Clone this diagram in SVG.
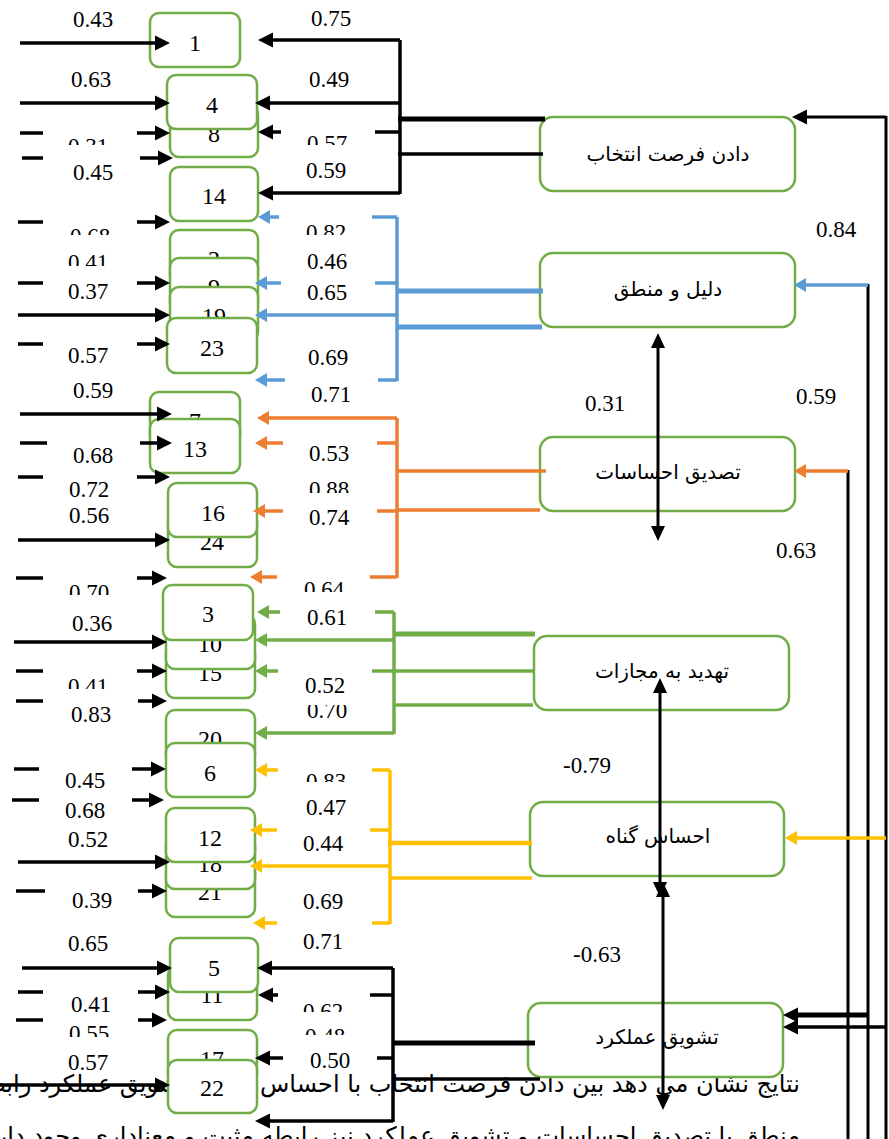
<svg xmlns="http://www.w3.org/2000/svg" width="889" height="1139" viewBox="0 0 889 1139">
<style>
.box{fill:#fff;stroke:#70AD47;stroke-width:2.5}
.num{font-family:"Liberation Serif","Times New Roman",serif;font-size:24px;text-anchor:middle;fill:#000}
.lbl{font-family:"Liberation Serif","Times New Roman",serif;font-size:23px;text-anchor:middle;fill:#000}
.fa{font-family:"DejaVu Sans","Noto Sans",sans-serif;font-size:20px;text-anchor:middle;fill:#000}
.par{font-family:"DejaVu Sans","Noto Sans",sans-serif;font-size:24px;text-anchor:end;fill:#000}
.k{stroke:#000;stroke-width:3.5;fill:none}
.kt{stroke:#000;stroke-width:5;fill:none}
.kv{stroke:#000;stroke-width:3;fill:none}
.b{stroke:#5B9BD5;stroke-width:3.5;fill:none}
.bt{stroke:#5B9BD5;stroke-width:5;fill:none}
.o{stroke:#ED7D31;stroke-width:3.5;fill:none}
.g{stroke:#70AD47;stroke-width:3.5;fill:none}
.gt{stroke:#70AD47;stroke-width:5;fill:none}
.y{stroke:#FFC000;stroke-width:3.5;fill:none}
.yt{stroke:#FFC000;stroke-width:4.5;fill:none}
</style>
<defs>
<marker id="ak" markerUnits="userSpaceOnUse" markerWidth="16" markerHeight="16" refX="0" refY="7.5" orient="auto" overflow="visible"><path d="M0,0L15,7.5L0,15z" fill="#000"/></marker>
<marker id="ad" markerUnits="userSpaceOnUse" markerWidth="16" markerHeight="16" refX="0" refY="7" orient="auto-start-reverse" overflow="visible"><path d="M0,0L15,7L0,14z" fill="#000"/></marker>
<marker id="ab" markerUnits="userSpaceOnUse" markerWidth="14" markerHeight="14" refX="0" refY="7" orient="auto" overflow="visible"><path d="M0,0L12,7L0,14z" fill="#5B9BD5"/></marker>
<marker id="ao" markerUnits="userSpaceOnUse" markerWidth="14" markerHeight="14" refX="0" refY="7" orient="auto" overflow="visible"><path d="M0,0L12,7L0,14z" fill="#ED7D31"/></marker>
<marker id="ag" markerUnits="userSpaceOnUse" markerWidth="14" markerHeight="14" refX="0" refY="7" orient="auto" overflow="visible"><path d="M0,0L12,7L0,14z" fill="#70AD47"/></marker>
<marker id="ay" markerUnits="userSpaceOnUse" markerWidth="14" markerHeight="14" refX="0" refY="7" orient="auto" overflow="visible"><path d="M0,0L12,7L0,14z" fill="#FFC000"/></marker>
<clipPath id="c1"><rect x="0" y="0" width="889" height="145"/></clipPath>
<clipPath id="c2"><rect x="0" y="0" width="889" height="235"/></clipPath>
<clipPath id="c3"><rect x="0" y="0" width="889" height="266"/></clipPath>
<clipPath id="c4"><rect x="0" y="508" width="889" height="100"/></clipPath>
<clipPath id="c5"><rect x="0" y="0" width="889" height="595"/></clipPath>
<clipPath id="c6"><rect x="0" y="0" width="889" height="689"/></clipPath>
<clipPath id="c7"><rect x="0" y="0" width="889" height="1037"/></clipPath>
<clipPath id="c8"><rect x="0" y="0" width="889" height="493"/></clipPath>
<clipPath id="c9"><rect x="0" y="0" width="889" height="592"/></clipPath>
<clipPath id="c10"><rect x="0" y="705" width="889" height="100"/></clipPath>
<clipPath id="c11"><rect x="0" y="0" width="889" height="782"/></clipPath>
<clipPath id="c12"><rect x="0" y="0" width="889" height="1012"/></clipPath>
<clipPath id="c13"><rect x="0" y="0" width="889" height="1035"/></clipPath>
</defs>
<rect width="889" height="1139" fill="#fff"/>

<g id="paragraph">
<text class="par" x="800" y="1092">نتایج نشان می دهد بین دادن فرصت انتخاب با احساس گناه و تشویق عملکرد رابطه</text>
<text class="par" x="800" y="1144">منطق با تصدیق احساسات و تشویق عملکرد نیز رابطه مثبت و معناداری وجود دارد</text>
</g>

<g id="item1"><rect class="box" x="150" y="13" width="90" height="54" rx="9"/><text class="num" x="195" y="51">1</text></g>
<g id="item8"><rect class="box" x="170" y="105" width="88" height="52" rx="9"/><text class="num" x="214" y="142">8</text></g>
<g id="item4"><rect class="box" x="167" y="75" width="90" height="54" rx="9"/><text class="num" x="212" y="113">4</text></g>
<g id="item14"><rect class="box" x="170" y="167" width="88" height="54" rx="9"/><text class="num" x="214" y="204">14</text></g>
<g id="item2"><rect class="box" x="170" y="230" width="88" height="54" rx="9"/><text class="num" x="214" y="267">2</text></g>
<g id="item9"><rect class="box" x="170" y="258" width="88" height="54" rx="9"/><text class="num" x="214" y="295">9</text></g>
<g id="item19"><rect class="box" x="170" y="287" width="88" height="54" rx="9"/><text class="num" x="214" y="324">19</text></g>
<g id="item23"><rect class="box" x="167" y="318" width="90" height="55" rx="9"/><text class="num" x="212" y="356">23</text></g>
<g id="item7"><rect class="box" x="150" y="392" width="90" height="54" rx="9"/><text class="num" x="195" y="429">7</text></g>
<g id="item13"><rect class="box" x="150" y="419" width="90" height="54" rx="9"/><text class="num" x="195" y="457">13</text></g>
<g id="item24"><rect class="box" x="168" y="513" width="89" height="54" rx="9"/><text class="num" x="212" y="550">24</text></g>
<g id="item16"><rect class="box" x="168" y="483" width="89" height="54" rx="9"/><text class="num" x="213" y="521">16</text></g>
<g id="item15"><rect class="box" x="166" y="644" width="89" height="54" rx="9"/><text class="num" x="210" y="681">15</text></g>
<g id="item10"><rect class="box" x="166" y="615" width="89" height="54" rx="9"/><text class="num" x="210" y="652">10</text></g>
<g id="item3"><rect class="box" x="163" y="585" width="90" height="55" rx="9"/><text class="num" x="208" y="622">3</text></g>
<g id="item20"><rect class="box" x="166" y="710" width="89" height="54" rx="9"/><text class="num" x="210" y="747">20</text></g>
<g id="item6"><rect class="box" x="166" y="743" width="89" height="54" rx="9"/><text class="num" x="210" y="781">6</text></g>
<g id="item21"><rect class="box" x="166" y="863" width="89" height="54" rx="9"/><text class="num" x="210" y="900">21</text></g>
<g id="item18"><rect class="box" x="166" y="835" width="89" height="54" rx="9"/><text class="num" x="210" y="872">18</text></g>
<g id="item12"><rect class="box" x="166" y="808" width="89" height="54" rx="9"/><text class="num" x="210" y="846">12</text></g>
<g id="item11"><rect class="box" x="168" y="966" width="89" height="54" rx="9"/><text class="num" x="212" y="1003">11</text></g>
<g id="item5"><rect class="box" x="170" y="938" width="88" height="54" rx="9"/><text class="num" x="214" y="976">5</text></g>
<g id="item17"><rect class="box" x="168" y="1030" width="89" height="54" rx="9"/><text class="num" x="212" y="1067">17</text></g>
<g id="item22"><rect class="box" x="168" y="1060" width="89" height="53" rx="9"/><text class="num" x="212" y="1096">22</text></g>

<g id="f_choice"><rect class="box" x="540" y="117" width="255" height="74" rx="13"/><text class="fa" x="668" y="161">دادن فرصت انتخاب</text></g>
<g id="f_reason"><rect class="box" x="540" y="253" width="255" height="74" rx="13"/><text class="fa" x="668" y="296">دلیل و منطق</text></g>
<g id="f_validate"><rect class="box" x="540" y="437" width="255" height="74" rx="13"/><text class="fa" x="668" y="479">تصدیق احساسات</text></g>
<g id="f_threat"><rect class="box" x="534" y="636" width="255" height="74" rx="13"/><text class="fa" x="662" y="678">تهدید به مجازات</text></g>
<g id="f_guilt"><rect class="box" x="530" y="802" width="254" height="74" rx="13"/><text class="fa" x="658" y="843">احساس گناه</text></g>
<g id="f_reward"><rect class="box" x="528" y="1003" width="255" height="74" rx="13"/><text class="fa" x="657" y="1044">تشویق عملکرد</text></g>

<g id="connectors">
<line class="k" x1="20" y1="43" x2="155" y2="43" marker-end="url(#ak)"/>
<line class="k" x1="20" y1="103" x2="155" y2="103" marker-end="url(#ak)"/>
<line class="k" x1="20" y1="133" x2="43" y2="133"/><line class="k" x1="137" y1="133" x2="155" y2="133" marker-end="url(#ak)"/>
<line class="k" x1="22" y1="158" x2="43" y2="158"/><line class="k" x1="140" y1="158" x2="158" y2="158" marker-end="url(#ak)"/>
<line class="k" x1="18" y1="222" x2="43" y2="222"/><line class="k" x1="137" y1="222" x2="155" y2="222" marker-end="url(#ak)"/>
<line class="k" x1="18" y1="283" x2="43" y2="283"/><line class="k" x1="137" y1="283" x2="155" y2="283" marker-end="url(#ak)"/>
<line class="k" x1="18" y1="315" x2="155" y2="315" marker-end="url(#ak)"/>
<line class="k" x1="18" y1="344" x2="43" y2="344"/><line class="k" x1="137" y1="344" x2="155" y2="344" marker-end="url(#ak)"/>
<line class="k" x1="20" y1="414" x2="157" y2="414" marker-end="url(#ak)"/>
<line class="k" x1="20" y1="443" x2="47" y2="443"/><line class="k" x1="140" y1="443" x2="157" y2="443" marker-end="url(#ak)"/>
<line class="k" x1="18" y1="477" x2="43" y2="477"/><line class="k" x1="137" y1="477" x2="155" y2="477" marker-end="url(#ak)"/>
<line class="k" x1="18" y1="540" x2="155" y2="540" marker-end="url(#ak)"/>
<line class="k" x1="16" y1="578" x2="43" y2="578"/><line class="k" x1="137" y1="578" x2="152" y2="578" marker-end="url(#ak)"/>
<line class="k" x1="14" y1="642" x2="152" y2="642" marker-end="url(#ak)"/>
<line class="k" x1="16" y1="671" x2="43" y2="671"/><line class="k" x1="137" y1="671" x2="152" y2="671" marker-end="url(#ak)"/>
<line class="k" x1="16" y1="701" x2="43" y2="701"/><line class="k" x1="138" y1="701" x2="152" y2="701" marker-end="url(#ak)"/>
<line class="k" x1="14" y1="769" x2="39" y2="769"/><line class="k" x1="132" y1="769" x2="151" y2="769" marker-end="url(#ak)"/>
<line class="k" x1="12" y1="800" x2="39" y2="800"/><line class="k" x1="132" y1="800" x2="149" y2="800" marker-end="url(#ak)"/>
<line class="k" x1="18" y1="862" x2="155" y2="862" marker-end="url(#ak)"/>
<line class="k" x1="16" y1="891" x2="45" y2="891"/><line class="k" x1="138" y1="891" x2="152" y2="891" marker-end="url(#ak)"/>
<line class="k" x1="22" y1="968" x2="157" y2="968" marker-end="url(#ak)"/>
<line class="k" x1="18" y1="992" x2="43" y2="992"/><line class="k" x1="138" y1="992" x2="155" y2="992" marker-end="url(#ak)"/>
<line class="k" x1="16" y1="1020" x2="43" y2="1020"/><line class="k" x1="138" y1="1020" x2="152" y2="1020" marker-end="url(#ak)"/>
<line class="k" x1="0" y1="1085" x2="155" y2="1085" marker-end="url(#ak)"/>

<line class="k" x1="400" y1="40" x2="400" y2="194"/>
<line class="k" x1="400" y1="40" x2="273" y2="40" marker-end="url(#ak)"/>
<line class="k" x1="400" y1="103" x2="270" y2="103" marker-end="url(#ak)"/>
<line class="k" x1="375" y1="132" x2="400" y2="132"/><line class="k" x1="281" y1="132" x2="273" y2="132" marker-end="url(#ak)"/>
<line class="k" x1="400" y1="193" x2="273" y2="193" marker-end="url(#ak)"/>
<line class="kt" x1="398" y1="119" x2="545" y2="119"/>
<line class="k" x1="398" y1="154" x2="543" y2="154"/>

<line class="b" x1="397" y1="217" x2="397" y2="381"/>
<line class="b" x1="372" y1="217" x2="397" y2="217"/><line class="b" x1="279" y1="217" x2="270" y2="217" marker-end="url(#ab)"/>
<line class="b" x1="375" y1="283" x2="397" y2="283"/><line class="b" x1="281" y1="283" x2="267" y2="283" marker-end="url(#ab)"/>
<line class="b" x1="397" y1="315" x2="267" y2="315" marker-end="url(#ab)"/>
<line class="b" x1="378" y1="380" x2="397" y2="380"/><line class="b" x1="285" y1="380" x2="267" y2="380" marker-end="url(#ab)"/>
<line class="bt" x1="397" y1="291" x2="543" y2="291"/>
<line class="bt" x1="397" y1="327" x2="542" y2="327"/>

<line class="o" x1="397" y1="418" x2="397" y2="578"/>
<line class="o" x1="397" y1="418" x2="269" y2="418" marker-end="url(#ao)"/>
<line class="o" x1="377" y1="443" x2="397" y2="443"/><line class="o" x1="283" y1="443" x2="267" y2="443" marker-end="url(#ao)"/>
<line class="o" x1="377" y1="511" x2="397" y2="511"/><line class="o" x1="283" y1="511" x2="265" y2="511" marker-end="url(#ao)"/>
<line class="o" x1="370" y1="577" x2="397" y2="577"/><line class="o" x1="277" y1="577" x2="262" y2="577" marker-end="url(#ao)"/>
<line class="o" x1="397" y1="471" x2="546" y2="471"/>
<line class="o" x1="397" y1="510" x2="540" y2="510"/>

<line class="g" x1="394" y1="612" x2="394" y2="734"/>
<line class="g" x1="375" y1="612" x2="394" y2="612"/><line class="g" x1="280" y1="612" x2="269" y2="612" marker-end="url(#ag)"/>
<line class="g" x1="394" y1="640" x2="267" y2="640" marker-end="url(#ag)"/>
<line class="gt" x1="394" y1="634" x2="535" y2="634"/>
<line class="g" x1="372" y1="671" x2="533" y2="671"/><line class="g" x1="278" y1="671" x2="267" y2="671" marker-end="url(#ag)"/>
<line class="g" x1="394" y1="705" x2="533" y2="705"/>
<line class="g" x1="394" y1="733" x2="267" y2="733" marker-end="url(#ag)"/>

<line class="y" x1="390" y1="770" x2="390" y2="924"/>
<line class="y" x1="372" y1="770" x2="390" y2="770"/><line class="y" x1="278" y1="770" x2="267" y2="770" marker-end="url(#ay)"/>
<line class="y" x1="370" y1="830" x2="390" y2="830"/><line class="y" x1="277" y1="830" x2="262" y2="830" marker-end="url(#ay)"/>
<line class="y" x1="390" y1="866" x2="262" y2="866" marker-end="url(#ay)"/>
<line class="y" x1="372" y1="923" x2="390" y2="923"/><line class="y" x1="277" y1="923" x2="265" y2="923" marker-end="url(#ay)"/>
<line class="yt" x1="388" y1="843" x2="532" y2="843"/>
<line class="y" x1="390" y1="878" x2="532" y2="878"/>

<line class="k" x1="393" y1="968" x2="393" y2="1122"/>
<line class="k" x1="393" y1="968" x2="272" y2="968" marker-end="url(#ak)"/>
<line class="k" x1="370" y1="995" x2="393" y2="995"/><line class="k" x1="278" y1="995" x2="273" y2="995" marker-end="url(#ak)"/>
<line class="k" x1="377" y1="1058" x2="393" y2="1058"/><line class="k" x1="283" y1="1058" x2="270" y2="1058" marker-end="url(#ak)"/>
<line class="k" x1="393" y1="1121" x2="270" y2="1121" marker-end="url(#ak)"/>
<line class="kt" x1="393" y1="1043" x2="535" y2="1043"/>
<line class="k" x1="393" y1="1079" x2="540" y2="1079"/>

<line class="kv" x1="886" y1="116" x2="886" y2="1139"/>
<line class="kv" x1="868" y1="284" x2="868" y2="1139"/>
<line class="kv" x1="848" y1="470" x2="848" y2="1139"/>
<line class="kv" x1="886" y1="117" x2="807" y2="117" marker-end="url(#ak)"/>
<line class="b" x1="868" y1="285" x2="806" y2="285" marker-end="url(#ab)"/>
<line class="o" x1="848" y1="471" x2="806" y2="471" marker-end="url(#ao)"/>
<line class="y" x1="886" y1="838" x2="797" y2="838" marker-end="url(#ay)"/>
<line class="kt" x1="868" y1="1015" x2="798" y2="1015" marker-end="url(#ak)"/>
<line class="k" x1="886" y1="1027" x2="798" y2="1027" marker-end="url(#ak)"/>

<line class="kv" x1="658" y1="348" x2="658" y2="526" marker-start="url(#ad)" marker-end="url(#ad)"/>
<line class="kv" x1="660" y1="693" x2="660" y2="882" marker-start="url(#ad)" marker-end="url(#ad)"/>
<line class="kv" x1="663" y1="897" x2="663" y2="1095" marker-start="url(#ad)" marker-end="url(#ad)"/>
</g>

<g id="labels">
<text class="lbl" x="93" y="27">0.43</text>
<text class="lbl" x="91" y="87">0.63</text>
<text class="lbl" x="88" y="154" clip-path="url(#c1)">0.31</text>
<text class="lbl" x="93" y="180">0.45</text>
<text class="lbl" x="90" y="244" clip-path="url(#c2)">0.68</text>
<text class="lbl" x="88" y="270" clip-path="url(#c3)">0.41</text>
<text class="lbl" x="88" y="299">0.37</text>
<text class="lbl" x="88" y="363">0.57</text>
<text class="lbl" x="93" y="398">0.59</text>
<text class="lbl" x="93" y="463">0.68</text>
<text class="lbl" x="89" y="497">0.72</text>
<text class="lbl" x="89" y="523" clip-path="url(#c4)">0.56</text>
<text class="lbl" x="89" y="600" clip-path="url(#c5)">0.70</text>
<text class="lbl" x="92" y="631">0.36</text>
<text class="lbl" x="88" y="694" clip-path="url(#c6)">0.41</text>
<text class="lbl" x="91" y="722">0.83</text>
<text class="lbl" x="85" y="788">0.45</text>
<text class="lbl" x="85" y="818">0.68</text>
<text class="lbl" x="88" y="847">0.52</text>
<text class="lbl" x="92" y="908">0.39</text>
<text class="lbl" x="88" y="951">0.65</text>
<text class="lbl" x="91" y="1012">0.41</text>
<text class="lbl" x="89" y="1041" clip-path="url(#c7)">0.55</text>
<text class="lbl" x="88" y="1070">0.57</text>

<text class="lbl" x="331" y="26">0.75</text>
<text class="lbl" x="329" y="87">0.49</text>
<text class="lbl" x="327" y="151" clip-path="url(#c1)">0.57</text>
<text class="lbl" x="326" y="178">0.59</text>
<text class="lbl" x="326" y="240" clip-path="url(#c2)">0.82</text>
<text class="lbl" x="327" y="269">0.46</text>
<text class="lbl" x="327" y="300">0.65</text>
<text class="lbl" x="328" y="365">0.69</text>
<text class="lbl" x="331" y="402">0.71</text>
<text class="lbl" x="329" y="461">0.53</text>
<text class="lbl" x="329" y="497" clip-path="url(#c8)">0.88</text>
<text class="lbl" x="329" y="525">0.74</text>
<text class="lbl" x="324" y="597" clip-path="url(#c9)">0.64</text>
<text class="lbl" x="327" y="625">0.61</text>
<text class="lbl" x="325" y="693">0.52</text>
<text class="lbl" x="327" y="718" clip-path="url(#c10)">0.70</text>
<text class="lbl" x="326" y="789" clip-path="url(#c11)">0.83</text>
<text class="lbl" x="326" y="815">0.47</text>
<text class="lbl" x="323" y="851">0.44</text>
<text class="lbl" x="323" y="909">0.69</text>
<text class="lbl" x="323" y="949">0.71</text>
<text class="lbl" x="323" y="1019" clip-path="url(#c12)">0.62</text>
<text class="lbl" x="325" y="1044" clip-path="url(#c13)">0.48</text>
<text class="lbl" x="330" y="1068">0.50</text>

<text class="lbl" x="836" y="237">0.84</text>
<text class="lbl" x="816" y="404">0.59</text>
<text class="lbl" x="605" y="411">0.31</text>
<text class="lbl" x="796" y="558">0.63</text>
<text class="lbl" x="587" y="773">-0.79</text>
<text class="lbl" x="597" y="962">-0.63</text>
</g>
</svg>
